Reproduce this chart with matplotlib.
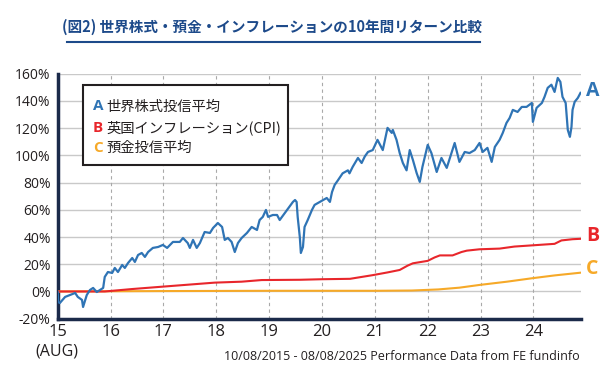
import matplotlib
matplotlib.use("Agg")
import matplotlib.pyplot as plt
from matplotlib.patches import Rectangle
from matplotlib.lines import Line2D

# ---------------- data ----------------
year_labels = ["15", "16", "17", "18", "19", "20", "21", "22", "23", "24"]
ytick_vals = [-20, 0, 20, 40, 60, 80, 100, 120, 140, 160]

# A: world equity fund average (years since Aug 2015, cumulative return %)
equity_t = [0.00, 0.01, 0.04, 0.14, 0.23, 0.33, 0.38, 0.46, 0.48, 0.55, 0.61, 0.67,
            0.74, 0.80, 0.86, 0.89, 0.95, 1.03, 1.08, 1.14, 1.22, 1.27, 1.33, 1.41,
            1.46, 1.52, 1.59, 1.65, 1.71, 1.80, 1.90, 1.99, 2.07, 2.18, 2.31, 2.37,
            2.46, 2.50, 2.56, 2.63, 2.69, 2.78, 2.88, 2.94, 3.03, 3.11, 3.16, 3.22,
            3.29, 3.35, 3.41, 3.48, 3.58, 3.67, 3.77, 3.82, 3.88, 3.94, 3.98, 4.07,
            4.15, 4.20, 4.34, 4.45, 4.49, 4.52, 4.54, 4.58, 4.60, 4.64, 4.67, 4.73,
            4.81, 4.86, 4.96, 5.09, 5.15, 5.19, 5.24, 5.30, 5.39, 5.49, 5.52, 5.58,
            5.68, 5.75, 5.81, 5.87, 5.96, 6.05, 6.15, 6.24, 6.32, 6.34, 6.41, 6.47,
            6.53, 6.60, 6.66, 6.72, 6.79, 6.85, 6.90, 7.00, 7.07, 7.17, 7.26, 7.36,
            7.45, 7.51, 7.60, 7.70, 7.79, 7.89, 7.98, 8.04, 8.13, 8.21, 8.27, 8.36,
            8.42, 8.49, 8.55, 8.61, 8.70, 8.78, 8.87, 8.97, 8.99, 9.06, 9.16, 9.21,
            9.27, 9.34, 9.40, 9.46, 9.51, 9.55, 9.61, 9.65, 9.69, 9.72, 9.74, 9.78,
            9.84, 9.89]
equity_v = [-0.4, -7.7, -8.5, -4.0, -2.6, -1.1, -4.0, -6.2, -11.4, -2.6, 1.1, 2.6,
            -0.4, 1.1, 2.6, 10.7, 14.3, 13.6, 17.3, 14.3, 19.5, 17.3, 20.9, 24.6,
            21.7, 26.8, 28.3, 25.4, 29.0, 32.0, 32.7, 34.2, 32.0, 36.4, 36.4, 39.3,
            35.6, 32.0, 37.9, 32.0, 35.6, 43.7, 43.0, 46.7, 50.3, 47.4, 37.9, 39.3,
            36.4, 29.0, 35.6, 39.3, 43.0, 47.4, 45.2, 52.5, 54.8, 59.9, 54.8, 56.2,
            56.2, 52.5, 59.9, 65.8, 67.2, 65.8, 54.8, 40.1, 28.3, 32.7, 47.4, 52.5,
            59.9, 63.6, 65.8, 68.7, 65.8, 73.1, 78.3, 81.6, 86.8, 89.0, 86.8, 91.5,
            98.1, 94.4, 99.2, 102.5, 103.9, 111.4, 103.9, 120.2, 116.5, 118.7, 111.4, 101.7,
            94.4, 89.0, 103.9, 96.6, 87.1, 80.5, 91.5, 107.7, 101.7, 87.8, 98.1, 90.8,
            101.7, 109.1, 95.2, 102.5, 101.7, 103.9, 109.1, 102.5, 105.5, 95.2, 106.2, 111.4,
            116.5, 123.8, 127.5, 133.4, 131.9, 135.6, 135.6, 138.5, 124.6, 134.9, 138.5, 143.0,
            149.6, 151.9, 146.6, 156.9, 154.0, 143.0, 138.5, 118.7, 113.6, 120.9, 133.4, 139.3,
            142.2, 145.9]

# B: UK inflation (CPI)
cpi_t = [0.00, 0.89, 1.41, 1.97, 2.97, 3.48, 3.86, 4.58, 5.00, 5.53, 5.96, 6.24,
         6.47, 6.62, 6.72, 7.00, 7.13, 7.23, 7.47, 7.64, 7.74, 7.98, 8.36, 8.64,
         9.02, 9.40, 9.53, 9.74, 9.89]
cpi_v = [0.0, 0.0, 1.8, 3.5, 6.5, 7.2, 8.4, 8.6, 9.0, 9.3, 12.0, 14.0,
         15.8, 19.0, 20.7, 22.5, 25.0, 26.5, 26.5, 29.0, 30.0, 31.0, 31.5, 33.0,
         34.0, 35.0, 37.5, 38.4, 38.7]

# C: deposit fund average
dep_t = [0.0, 2.0, 4.0, 6.0, 6.7, 7.2, 7.6, 7.98, 8.5, 8.97, 9.4, 9.89]
dep_v = [0.0, 0.3, 0.5, 0.5, 0.7, 1.5, 2.8, 4.8, 7.2, 9.7, 11.8, 13.8]

# ---------------- style ----------------
W, H = 610, 375
BLUE = "#2f74b5"
RED = "#e8262b"
ORANGE = "#f6a928"
NAVY = "#1d4a8a"
SPINE = "#1b2a4a"
JP = ["Noto Sans CJK JP", "DejaVu Sans"]
LAT = "Open Sans"

def fx(px):
    return px / W

def fy(py):
    return 1 - py / H

fig = plt.figure(figsize=(W / 100, H / 100), dpi=100)
ax = fig.add_axes([fx(57.7), fy(318.7), fx(581) - fx(57.7), fy(73.7) - fy(318.7)])

ax.set_xlim(0, 9.9)
ax.set_ylim(-20, 160)

for v in ytick_vals[1:]:
    ax.axhline(v, color="#c9c9c9", lw=1.0, zorder=1)
for i in range(1, len(year_labels)):
    ax.axvline(i, color="#a9a9a9", lw=0.8, ls=(0, (3, 3)), zorder=1)

ax.plot(dep_t, dep_v, color=ORANGE, lw=1.5, zorder=3)
ax.plot(cpi_t, cpi_v, color=RED, lw=1.5, zorder=3)
ax.plot(equity_t, equity_v, color=BLUE, lw=1.6, zorder=4)

for s in ["top", "right"]:
    ax.spines[s].set_visible(False)
for s in ["left", "bottom"]:
    ax.spines[s].set_color(SPINE)
    ax.spines[s].set_linewidth(2.5)

ax.set_yticks(ytick_vals)
ax.set_yticklabels([f"{v}%" for v in ytick_vals], fontsize=10, family=LAT, color="#231f20")
ax.set_xticks(range(len(year_labels)))
ax.set_xticklabels(year_labels, fontsize=12, family=LAT, color="#231f20")
ax.tick_params(length=0, pad=5)
ax.tick_params(axis="x", pad=4)

# title
fig.text(fx(272), fy(27), "(図2) 世界株式・預金・インフレーションの10年間リターン比較",
         ha="center", va="center", fontsize=10.5, fontweight="bold", color=NAVY, family=JP)
fig.add_artist(Line2D([fx(67), fx(480)], [fy(42), fy(42)], color=NAVY, lw=1.5))

# legend box
fig.add_artist(Rectangle((fx(83), fy(165)), fx(288) - fx(83), fy(85) - fy(165),
                         facecolor="white", edgecolor="#231f20", lw=1.5, zorder=5))
legend_items = [("A", "世界株式投信平均", BLUE, 106.5),
                ("B", "英国インフレーション(CPI)", RED, 127.5),
                ("C", "預金投信平均", ORANGE, 148)]
for letter, label, col, py in legend_items:
    fig.text(fx(93), fy(py), letter, ha="left", va="center", fontsize=11,
             fontweight="bold", color=col, family=LAT, zorder=6)
    fig.text(fx(106), fy(py), label, ha="left", va="center", fontsize=10.3,
             color="#231f20", family=JP, zorder=6)

# right-side labels
for letter, col, py in [("A", BLUE, 91), ("B", RED, 236), ("C", ORANGE, 269)]:
    fig.text(fx(586), fy(py), letter, ha="left", va="center", fontsize=14,
             fontweight="bold", color=col, family=LAT)

fig.text(fx(57), fy(352), "(AUG)", ha="center", va="center", fontsize=11.5,
         color="#231f20", family=LAT)
fig.text(fx(580), fy(356), "10/08/2015 - 08/08/2025 Performance Data from FE fundinfo",
         ha="right", va="center", fontsize=9, color="#231f20", family=LAT)

fig.savefig("out.png", dpi=100)
